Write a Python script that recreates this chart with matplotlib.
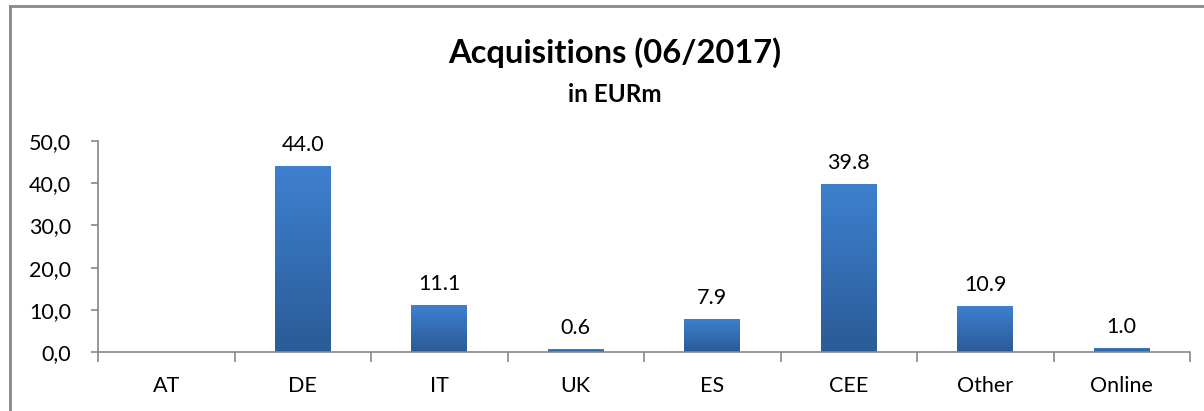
import matplotlib.pyplot as plt
import numpy as np
from matplotlib.lines import Line2D
from matplotlib.colors import LinearSegmentedColormap

# chart data
categories = ["AT", "DE", "IT", "UK", "ES", "CEE", "Other", "Online"]
values = [np.nan, 44.0, 11.1, 0.6, 7.9, 39.8, 10.9, 1.0]
y_ticks = [0, 10, 20, 30, 40, 50]

plt.rcParams["font.family"] = ["Lato", "DejaVu Sans"]

fig = plt.figure(figsize=(12.04, 4.11), dpi=100)
ax = fig.add_axes([98 / 1204, 59 / 411, 1092 / 1204, 211 / 411])

x = np.arange(len(categories))
bar_width = 0.41
grad = LinearSegmentedColormap.from_list("bar", ["#2b5b97", "#3e80cf"])

bars = ax.bar(x, np.nan_to_num(values), width=bar_width, color="none", edgecolor="none")
for rect, val in zip(bars, values):
    if np.isnan(val) or val == 0:
        continue
    x0, w, h = rect.get_x(), rect.get_width(), rect.get_height()
    img = ax.imshow(
        np.linspace(0, 1, 100).reshape(-1, 1),
        cmap=grad,
        origin="lower",
        aspect="auto",
        extent=[x0, x0 + w, 0, h],
        zorder=2,
    )
    img.set_clip_path(rect)
    ax.annotate(
        f"{val:.1f}",
        (x0 + w / 2, h),
        xytext=(0, 8),
        textcoords="offset points",
        ha="center",
        va="bottom",
        fontsize=15.5,
    )

ax.set_xlim(-0.5, len(categories) - 0.5)
ax.set_ylim(0, 50)
ax.set_yticks(y_ticks)
ax.set_yticklabels([f"{t:.1f}".replace(".", ",") for t in y_ticks], fontsize=15.5)

# ticks between categories, labels at centers
ax.set_xticks(np.arange(-0.5, len(categories), 1.0))
ax.set_xticklabels([])
ax.set_xticks(x, minor=True)
ax.set_xticklabels(categories, minor=True, fontsize=15.5)
ax.tick_params(axis="x", which="major", length=7, width=1.2, color="#888888", direction="out")
ax.tick_params(axis="x", which="minor", length=0, pad=17)
ax.tick_params(axis="y", length=5, width=1.2, color="#888888", pad=14.5)

for side in ["top", "right"]:
    ax.spines[side].set_visible(False)
for side in ["left", "bottom"]:
    ax.spines[side].set_color("#888888")
    ax.spines[side].set_linewidth(1.2)

fig.text(615 / 1204, 1 - 53 / 411, "Acquisitions (06/2017)", ha="center", va="center",
         fontsize=23.5, fontweight="bold")
fig.text(615 / 1204, 1 - 94 / 411, "in EURm", ha="center", va="center",
         fontsize=17.5, fontweight="bold")

# chart frame (left and top edges visible)
fig.add_artist(Line2D([10 / 1204, 10 / 1204], [0, 1 - 6 / 411], transform=fig.transFigure,
                      color="#888888", lw=2))
fig.add_artist(Line2D([10 / 1204, 1], [1 - 6 / 411, 1 - 6 / 411], transform=fig.transFigure,
                      color="#888888", lw=2))

fig.savefig("out.png", dpi=100)
plt.close()
